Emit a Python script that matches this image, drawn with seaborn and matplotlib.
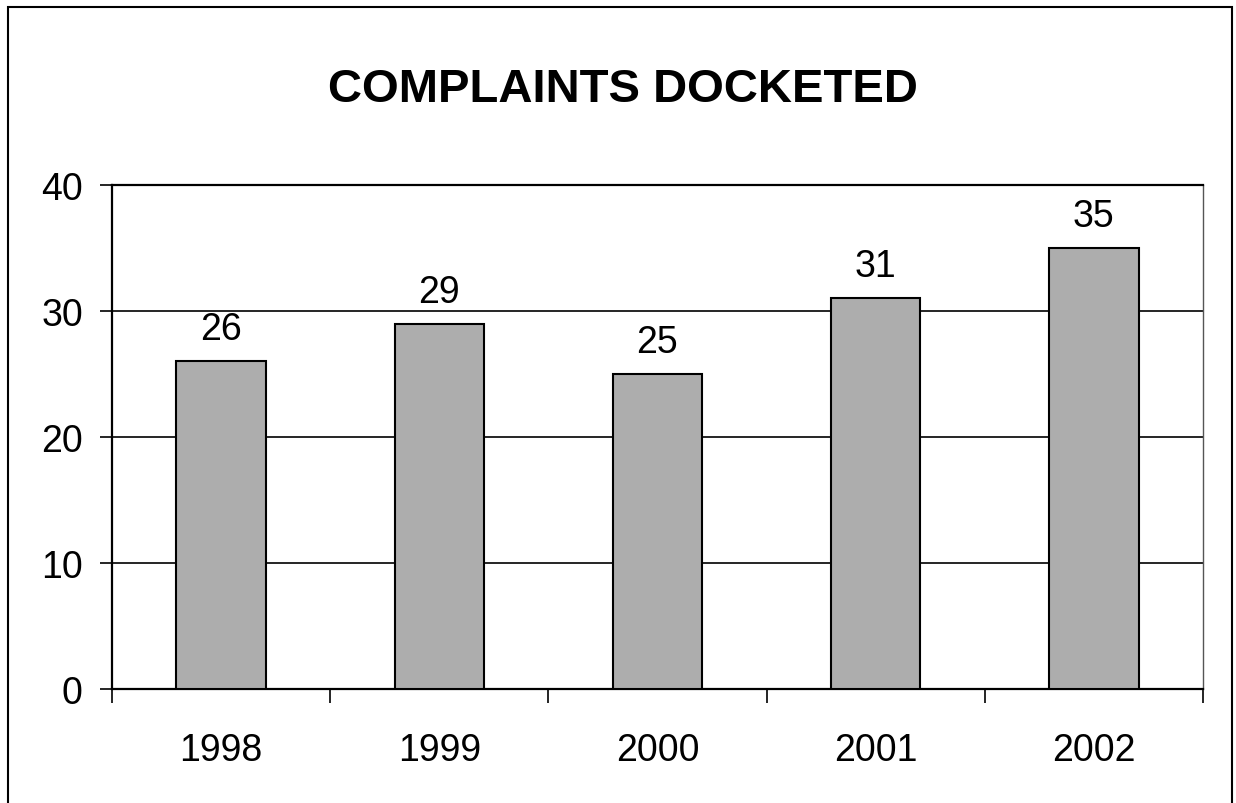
import matplotlib
matplotlib.use("Agg")
import matplotlib.pyplot as plt
import seaborn as sns
import pandas as pd
from matplotlib.patches import Rectangle

years = ["1998", "1999", "2000", "2001", "2002"]
complaints = [26, 29, 25, 31, 35]
title = "COMPLAINTS DOCKETED"
yticks = [0, 10, 20, 30, 40]

sns.set_theme(style="white")
plt.rcParams['font.family'] = ['Liberation Sans', 'DejaVu Sans']
plt.rcParams['text.color'] = 'black'
plt.rcParams['xtick.color'] = 'black'
plt.rcParams['ytick.color'] = 'black'

df = pd.DataFrame({"year": years, "count": complaints})

fig = plt.figure(figsize=(12.36, 8.04), dpi=100)
ax = fig.add_axes([0.0906, 0.1418, 0.8827, 0.6269])

sns.barplot(data=df, x="year", y="count", color="#adadad", edgecolor="black",
            linewidth=1.5, width=0.41, saturation=1, ax=ax, zorder=3)

ax.set_ylim(0, 40)
ax.set_xlim(-0.5, len(years) - 0.5)
ax.set_yticks(yticks)
ax.set_yticklabels([str(t) for t in yticks], fontsize=27)
ax.tick_params(axis="x", labelsize=27, length=0, pad=31, labelcolor="black")
ax.tick_params(axis="y", left=True, length=9, width=1.2, color="black", pad=12,
               labelcolor="black")
ax.set_xlabel("")
ax.set_ylabel("")
for t in yticks[1:]:
    ax.axhline(t, color="black", linewidth=1.2, zorder=1)

# minor ticks at category boundaries
ax.set_xticks([i - 0.5 for i in range(len(years) + 1)], minor=True)
ax.tick_params(axis="x", which="minor", bottom=True, length=10, width=1.2, color="black")

for side in ["left", "bottom", "top"]:
    ax.spines[side].set_color("black")
    ax.spines[side].set_linewidth(1.6)
ax.spines["right"].set_color("#555555")
ax.spines["right"].set_linewidth(1.0)

for c in ax.containers:
    ax.bar_label(c, labels=[str(v) for v in complaints], padding=10, fontsize=27,
                 color="black")

fig.text(0.504, 0.888, title, ha="center", va="center", fontsize=34,
         fontweight="bold", color="black")

fig.patches.append(Rectangle((8 / 1236, -0.01), 1224 / 1236, 1 - 8 / 804 + 0.01,
                             transform=fig.transFigure, fill=False,
                             edgecolor="black", linewidth=1.5, clip_on=False))

fig.savefig("out.png", dpi=100, facecolor="white")
